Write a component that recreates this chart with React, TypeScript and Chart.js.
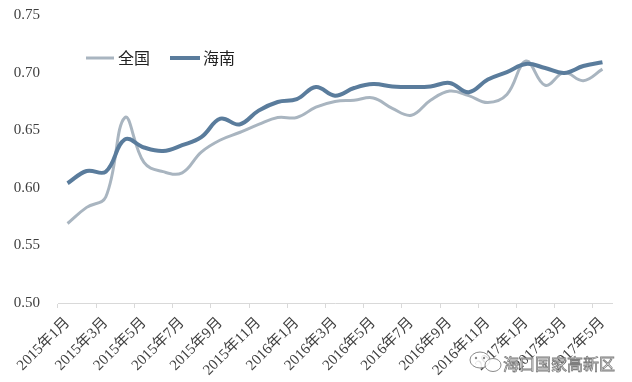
import React, { useEffect, useRef } from "react";
import { Chart, registerables } from "chart.js";

Chart.register(...registerables);

const months: string[] = [
  "2015年1月", "2015年2月", "2015年3月", "2015年4月", "2015年5月", "2015年6月",
  "2015年7月", "2015年8月", "2015年9月", "2015年10月", "2015年11月", "2015年12月",
  "2016年1月", "2016年2月", "2016年3月", "2016年4月", "2016年5月", "2016年6月",
  "2016年7月", "2016年8月", "2016年9月", "2016年10月", "2016年11月", "2016年12月",
  "2017年1月", "2017年2月", "2017年3月", "2017年4月", "2017年5月",
];

const nationalValues: number[] = [
  0.569, 0.583, 0.592, 0.661, 0.622, 0.614, 0.613, 0.631, 0.6415, 0.648,
  0.655, 0.661, 0.661, 0.670, 0.675, 0.676, 0.678, 0.669, 0.663, 0.676,
  0.684, 0.680, 0.674, 0.681, 0.710, 0.689, 0.700, 0.693, 0.703,
];

const hainanValues: number[] = [
  0.604, 0.6146, 0.614, 0.642, 0.635, 0.632, 0.637, 0.644, 0.660, 0.655,
  0.667, 0.6745, 0.677, 0.6875, 0.680, 0.6866, 0.690, 0.688, 0.6875, 0.688,
  0.691, 0.683, 0.694, 0.7005, 0.7075, 0.704, 0.6997, 0.7057, 0.709,
];

const yTickValues: number[] = [0.5, 0.55, 0.6, 0.65, 0.7, 0.75];

const seriesNames: string[] = ["全国", "海南"];
const watermarkText = "海口国家高新区";

const LIGHT = "#a9b5c0";
const DARK = "#5a7c9c";
const AXIS = "#d9d9d9";
const TEXT = "#404040";

const overlayPlugin = {
  id: "overlayLegend",
  afterDraw(chart: any) {
    const ctx = chart.ctx as CanvasRenderingContext2D;
    ctx.save();
    // legend
    const y = 58;
    ctx.lineCap = "butt";
    ctx.strokeStyle = LIGHT;
    ctx.lineWidth = 3;
    ctx.beginPath();
    ctx.moveTo(86, y);
    ctx.lineTo(114, y);
    ctx.stroke();
    ctx.strokeStyle = DARK;
    ctx.lineWidth = 4;
    ctx.beginPath();
    ctx.moveTo(170, y);
    ctx.lineTo(200, y);
    ctx.stroke();
    ctx.fillStyle = "#222";
    ctx.font = "16px 'Noto Sans CJK SC', sans-serif";
    ctx.textBaseline = "middle";
    ctx.textAlign = "left";
    ctx.fillText(seriesNames[0], 118, y);
    ctx.fillText(seriesNames[1], 203, y);

    // watermark
    ctx.fillStyle = "rgba(255,255,255,0.85)";
    ctx.strokeStyle = "#8a8a8a";
    ctx.lineWidth = 1;
    ctx.beginPath();
    ctx.ellipse(480, 360, 10, 8, 0, 0, Math.PI * 2);
    ctx.fill();
    ctx.stroke();
    ctx.beginPath();
    ctx.ellipse(493, 365, 8, 6.5, 0, 0, Math.PI * 2);
    ctx.fill();
    ctx.stroke();
    ctx.fillStyle = "#8a8a8a";
    ctx.beginPath();
    ctx.arc(476, 358, 1.2, 0, Math.PI * 2);
    ctx.arc(484, 358, 1.2, 0, Math.PI * 2);
    ctx.fill();
    ctx.font = "16px 'Noto Sans CJK SC', sans-serif";
    ctx.textBaseline = "alphabetic";
    ctx.fillStyle = "rgba(255,255,255,0.8)";
    ctx.lineWidth = 0.8;
    ctx.fillText(watermarkText, 503, 370);
    ctx.strokeStyle = "#7e7e7e";
    ctx.strokeText(watermarkText, 503, 370);
    ctx.restore();
  },
};

export default function App() {
  const ref = useRef<HTMLCanvasElement>(null);

  useEffect(() => {
    const canvas = ref.current;
    if (!canvas) return;
    const chart = new Chart(canvas, {
      type: "line",
      data: {
        labels: months,
        datasets: [
          {
            label: seriesNames[0],
            data: nationalValues,
            borderColor: LIGHT,
            backgroundColor: LIGHT,
            borderWidth: 3,
            pointRadius: 0,
            tension: 0.4,
            fill: false,
            order: 2,
          },
          {
            label: seriesNames[1],
            data: hainanValues,
            borderColor: DARK,
            backgroundColor: DARK,
            borderWidth: 4,
            pointRadius: 0,
            tension: 0.4,
            fill: false,
            order: 1,
          },
        ],
      },
      options: {
        responsive: false,
        animation: false,
        layout: { padding: { top: 15, right: 20, left: 0, bottom: 0 } },
        plugins: {
          legend: { display: false },
          tooltip: { enabled: false },
        },
        scales: {
          x: {
            type: "category",
            offset: true,
            grid: {
              offset: true,
              drawOnChartArea: false,
              drawTicks: true,
              tickLength: 5,
              color: (c: any) =>
                c.index % 2 === 0 && c.index < months.length ? AXIS : "rgba(0,0,0,0)",
            },
            border: { display: true, color: AXIS, width: 1 },
            ticks: {
              autoSkip: false,
              maxRotation: 45,
              minRotation: 45,
              padding: 6,
              color: TEXT,
              font: { family: "'Liberation Serif', 'Noto Sans CJK SC', serif", size: 15 },
              callback: (_v: any, i: number) => (i % 2 === 0 ? months[i] : ""),
            },
            afterFit: (s: any) => {
              s.height = 79;
            },
          },
          y: {
            min: 0.5,
            max: 0.75,
            grid: { display: false, drawTicks: false },
            border: { display: false },
            afterBuildTicks: (s: any) => {
              s.ticks = yTickValues.map((v) => ({ value: v }));
            },
            ticks: {
              padding: 18,
              color: TEXT,
              font: { family: "'Liberation Serif', serif", size: 15 },
              callback: (v: any) => Number(v).toFixed(2),
            },
            afterFit: (s: any) => {
              s.width = 58;
              s.paddingTop = 0;
              s.paddingBottom = 0;
            },
          },
        },
      },
      plugins: [overlayPlugin],
    });
    return () => chart.destroy();
  }, []);

  return (
    <div style={{ position: "fixed", left: 0, top: 0, width: 632, height: 382, background: "#fff" }}>
      <canvas ref={ref} width={632} height={382} style={{ display: "block" }} />
    </div>
  );
}
